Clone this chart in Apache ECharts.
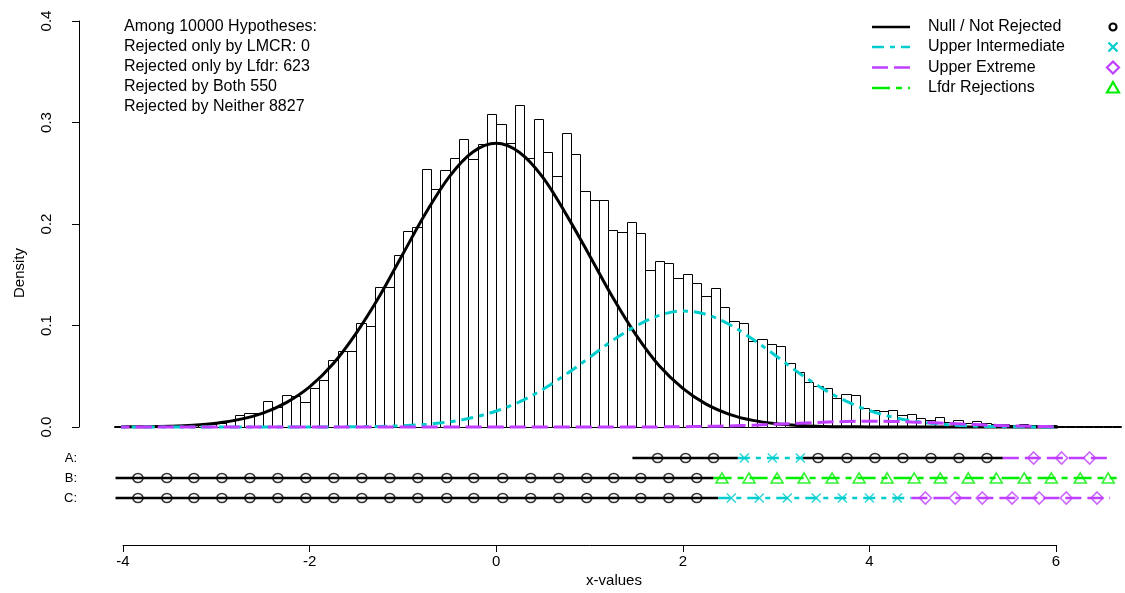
<!DOCTYPE html>
<html><head><meta charset="utf-8">
<script src="https://cdn.jsdelivr.net/npm/echarts@6/dist/echarts.min.js"></script>
<style>html,body{margin:0;padding:0;background:#fff}#c{width:1125px;height:593px}</style>
</head><body><div id="c"></div>
<script>
// ---------- DATA ----------
const histBreakStart = -4.1;
const histBinWidth = 0.1;
const histDensity = [
  0.0005, 0.0005, 0.0005, 0.001, 0.0005, 0.001, 0.001, 0.002, 0.002, 0.003,
  0.003, 0.004, 0.006, 0.012, 0.0135, 0.0135, 0.026, 0.020, 0.0315, 0.031,
  0.025, 0.038, 0.046, 0.066, 0.075, 0.075, 0.102, 0.0995, 0.138, 0.138,
  0.169, 0.193, 0.197, 0.2545, 0.2345, 0.253, 0.265, 0.284, 0.264, 0.279,
  0.308, 0.299, 0.2795, 0.317, 0.265, 0.303, 0.2705, 0.247, 0.290, 0.2685,
  0.2325, 0.2233, 0.2233, 0.194, 0.1925, 0.202, 0.1915, 0.1543, 0.1635, 0.162,
  0.147, 0.151, 0.142, 0.129, 0.137, 0.118, 0.104, 0.1028, 0.0847, 0.087,
  0.0814, 0.080, 0.063, 0.054, 0.044, 0.040, 0.038, 0.029, 0.033, 0.032,
  0.019, 0.017, 0.016, 0.0165, 0.012, 0.013, 0.0085, 0.0065, 0.0095, 0.005,
  0.0065, 0.0035, 0.006, 0.004, 0.003, 0.0025, 0.002, 0.003, 0.002, 0.001,
  0.0015, 0.001, 0.0005, 0.0005, 0.0005, 0.001, 0.0005, 0.0005
];
const curveX = [-4.1, -3.75, -3.5, -3.25, -3.0, -2.75, -2.5, -2.25, -2.0, -1.75, -1.5, -1.25, -1.0, -0.75, -0.5, -0.25,
  0, 0.25, 0.5, 0.75, 1.0, 1.25, 1.5, 1.75, 2.0, 2.25, 2.5, 2.75, 3.0, 3.25, 3.5, 3.75, 4.0, 4.25, 4.5, 4.75,
  5.0, 5.25, 5.5, 5.75, 6.0, 6.25, 6.6];
const nullDensity = [0.0001, 0.0003, 0.0008, 0.0018, 0.0038, 0.0075, 0.0137, 0.0240, 0.0395, 0.0620, 0.0925, 0.1290, 0.1705, 0.2115, 0.2470, 0.2710,
  0.2795, 0.2705, 0.2460, 0.2095, 0.1690, 0.1275, 0.0905, 0.0600, 0.0380, 0.0225, 0.0125, 0.0065, 0.0032, 0.0015, 0.0006, 0.0002, 0.0001, 0, 0, 0,
  0, 0, 0, 0, 0, 0, 0];
const interDensity = [0, 0, 0, 0, 0, 0, 0, 0, 0.00004, 0.0001, 0.0003, 0.0006, 0.0013, 0.0027, 0.0051, 0.0093,
  0.0158, 0.0248, 0.0370, 0.0520, 0.0685, 0.0855, 0.0995, 0.1100, 0.1143, 0.1110, 0.1010, 0.0865, 0.0700, 0.0530, 0.0378, 0.0255, 0.0162, 0.0097, 0.0054, 0.0029,
  0.0014, 0.0006, 0.0003, 0.0001, 0, 0, 0];
const extremeDensity = [0, 0, 0, 0, 0, 0, 0, 0, 0, 0, 0, 0, 0, 0, 0, 0,
  0, 0, 0, 0, 0, 0, 0, 0.0001, 0.0003, 0.0006, 0.0011, 0.0018, 0.0027, 0.0037, 0.0047, 0.0054, 0.0057, 0.0055, 0.0048, 0.0039,
  0.0029, 0.0019, 0.0012, 0.0006, 0.0003, 0.0001, 0];

const rowLabels = ['A:', 'B:', 'C:'];
const segA = [[1.46, 2.59, 'null'], [2.59, 3.29, 'inter'], [3.29, 5.43, 'null'], [5.43, 6.60, 'extreme']];
const segB = [[-4.08, 2.33, 'null'], [2.33, 6.65, 'lfdr']];
const segC = [[-4.08, 2.38, 'null'], [2.38, 4.45, 'inter'], [4.45, 6.58, 'extreme']];

const markANull = [1.73, 2.03, 2.33, 3.45, 3.76, 4.06, 4.36, 4.66, 4.96, 5.26];
const markAInter = [2.66, 2.96, 3.26];
const markAExtreme = [5.76, 6.06, 6.36];
const markBNull = [-3.84, -3.53, -3.24, -2.94, -2.64, -2.34, -2.04, -1.74, -1.44, -1.14, -0.84, -0.53, -0.24, 0.07, 0.37, 0.67, 0.97, 1.26, 1.55, 1.85, 2.15];
const markBLfdr = [2.42, 2.71, 3.01, 3.30, 3.60, 3.89, 4.19, 4.48, 4.76, 5.06, 5.36, 5.66, 5.95, 6.26, 6.56];
const markCNull = [-3.84, -3.53, -3.24, -2.94, -2.64, -2.34, -2.04, -1.74, -1.44, -1.14, -0.84, -0.53, -0.24, 0.07, 0.37, 0.67, 0.97, 1.26, 1.55, 1.85, 2.15];
const markCInter = [2.52, 2.82, 3.12, 3.43, 3.71, 4.00, 4.30];
const markCExtreme = [4.60, 4.92, 5.21, 5.53, 5.82, 6.11, 6.44];

const legendNames = ['Null / Not Rejected', 'Upper Intermediate', 'Upper Extreme', 'Lfdr Rejections'];
const infoLines = ['Among 10000 Hypotheses:', 'Rejected only by LMCR: 0', 'Rejected only by Lfdr: 623', 'Rejected by Both 550', 'Rejected by Neither 8827'];

// ---------- STYLE ----------
const FONT = "'Liberation Sans', Arial, Helvetica, sans-serif";
const CYAN = '#00CDCD', PURPLE = '#BF3EFF', GREEN = '#00EE00';
const lineTypes = {
  null: { color: '#000', type: 'solid' },
  inter: { color: CYAN, type: [12, 6, 5, 6] },
  extreme: { color: PURPLE, type: [16, 6] },
  lfdr: { color: GREEN, type: [18, 6, 6, 6] }
};
const symbolStyles = {
  null: { symbol: 'circle', size: [10, 9], color: '#000' },
  inter: { symbol: 'path://M0,0L10,10M10,0L0,10', size: 9, color: CYAN },
  extreme: { symbol: 'path://M6,0L12,6L6,12L0,6Z', size: 12, color: PURPLE },
  lfdr: { symbol: 'path://M6,0L12,10L0,10Z', size: [12, 10], color: GREEN }
};

const zip = (xs, ys) => xs.map((x, i) => [x, ys[i]]);

const series = [];
// histogram
series.push({
  type: 'custom', xAxisIndex: 0, yAxisIndex: 0, clip: false, z: 1,
  data: histDensity.map((d, i) => [histBreakStart + i * histBinWidth, histBreakStart + (i + 1) * histBinWidth, d]),
  encode: { x: [0, 1], y: 2 },
  renderItem: function (params, api) {
    const p0 = api.coord([api.value(0), 0]);
    const p1 = api.coord([api.value(1), api.value(2)]);
    const x0 = Math.round(p0[0]) + 0.5, x1 = Math.round(p1[0]) + 0.5;
    const y0 = Math.round(p0[1]) + 0.5, y1 = Math.round(p1[1]) + 0.5;
    return { type: 'rect', shape: { x: x0, y: y1, width: x1 - x0, height: y0 - y1 },
      style: { fill: '#fff', stroke: '#000', lineWidth: 1 } };
  }
});
function curve(ys, key, z) {
  return { type: 'line', xAxisIndex: 0, yAxisIndex: 0, data: zip(curveX, ys), smooth: 0.35, showSymbol: false,
    clip: false, z: z, silent: true,
    lineStyle: { color: lineTypes[key].color, type: lineTypes[key].type, width: 3, cap: 'butt' } };
}
series.push(curve(nullDensity, 'null', 3));
series.push(curve(interDensity, 'inter', 4));
series.push(curve(extremeDensity, 'extreme', 5));

function segs(list, row) {
  list.forEach(s => {
    series.push({ type: 'line', xAxisIndex: 1, yAxisIndex: 1, data: [[s[0], row], [s[1], row]], showSymbol: false,
      clip: false, z: 3, silent: true,
      lineStyle: { color: lineTypes[s[2]].color, type: lineTypes[s[2]].type, width: 2.5, cap: 'butt' } });
  });
}
function marks(xs, row, key) {
  const st = symbolStyles[key];
  series.push({ type: 'scatter', xAxisIndex: 1, yAxisIndex: 1, data: xs.map(x => [x, row]), clip: false, z: 4,
    symbol: st.symbol, symbolSize: st.size, silent: true,
    itemStyle: { color: 'rgba(0,0,0,0)', borderColor: st.color, borderWidth: 1.6 } });
}
segs(segA, 0); segs(segB, 1); segs(segC, 2);
marks(markANull, 0, 'null'); marks(markAInter, 0, 'inter'); marks(markAExtreme, 0, 'extreme');
marks(markBNull, 1, 'null'); marks(markBLfdr, 1, 'lfdr');
marks(markCNull, 2, 'null'); marks(markCInter, 2, 'inter'); marks(markCExtreme, 2, 'extreme');

// legend + texts as graphics
const graphics = [];
const legendKeys = ['null', 'inter', 'extreme', 'lfdr'];
const legendY = [27, 47, 67.5, 88];
legendKeys.forEach((k, i) => {
  const y = legendY[i];
  const lt = lineTypes[k];
  graphics.push({ type: 'line', shape: { x1: 872, y1: y, x2: 910, y2: y },
    style: { stroke: lt.color, lineWidth: 2.5, lineDash: lt.type === 'solid' ? null : lt.type } });
  graphics.push({ type: 'text', x: 928, y: y, style: { text: legendNames[i], font: '16px ' + FONT, fill: '#000', verticalAlign: 'middle', align: 'left' } });
  const sx = 1113;
  if (k === 'null') graphics.push({ type: 'circle', shape: { cx: sx, cy: y, r: 3.5 }, style: { fill: 'none', stroke: '#000', lineWidth: 2.2 } });
  if (k === 'inter') graphics.push({ type: 'polyline', shape: { points: [[sx - 4.5, y - 4.5], [sx + 4.5, y + 4.5]] }, style: { stroke: CYAN, lineWidth: 2.2 } },
                                    { type: 'polyline', shape: { points: [[sx + 4.5, y - 4.5], [sx - 4.5, y + 4.5]] }, style: { stroke: CYAN, lineWidth: 2.2 } });
  if (k === 'extreme') graphics.push({ type: 'polygon', shape: { points: [[sx, y - 6], [sx + 6, y], [sx, y + 6], [sx - 6, y]] }, style: { fill: 'none', stroke: PURPLE, lineWidth: 2.2 } });
  if (k === 'lfdr') graphics.push({ type: 'polygon', shape: { points: [[sx, y - 6], [sx + 6, y + 4.5], [sx - 6, y + 4.5]] }, style: { fill: 'none', stroke: GREEN, lineWidth: 2.2 } });
});
graphics.push({ type: 'text', left: 124, top: 17, style: { text: infoLines.join('\n'), font: '16px ' + FONT, lineHeight: 20, fill: '#000' } });
graphics.push({ type: 'text', x: 20, y: 273, rotation: Math.PI / 2, style: { text: 'Density', font: '15px ' + FONT, fill: '#000', align: 'center', verticalAlign: 'middle' } });
graphics.push({ type: 'text', x: 614, y: 581, style: { text: 'x-values', font: '15px ' + FONT, fill: '#000', align: 'center', verticalAlign: 'middle' } });

const axisTextStyle = { color: '#000', fontFamily: FONT, fontSize: 15 };
const option = {
  backgroundColor: '#fff',
  animation: false,
  grid: [
    { left: 123, right: 69, top: 21, height: 406 },
    { left: 123, right: 69, top: 448, height: 60 }
  ],
  xAxis: [
    { type: 'value', gridIndex: 0, min: -4, max: 6, show: false },
    { type: 'value', gridIndex: 1, min: -4, max: 6, interval: 2, offset: 37,
      axisLine: { show: true, onZero: false, lineStyle: { color: '#000', width: 1 } },
      axisTick: { show: true, length: 7, lineStyle: { color: '#000' } },
      axisLabel: Object.assign({ margin: 9 }, axisTextStyle),
      splitLine: { show: false } }
  ],
  yAxis: [
    { type: 'value', gridIndex: 0, min: 0, max: 0.4, interval: 0.1, offset: 44,
      axisLine: { show: true, onZero: false, lineStyle: { color: '#000', width: 1 } },
      axisTick: { show: true, length: 7, lineStyle: { color: '#000' } },
      axisLabel: Object.assign({ rotate: 90, margin: 25, formatter: v => v.toFixed(1) }, axisTextStyle),
      splitLine: { show: false } },
    { type: 'category', gridIndex: 1, data: rowLabels, inverse: true,
      axisLine: { show: false }, axisTick: { show: false },
      axisLabel: { margin: 46, color: '#000', fontFamily: FONT, fontSize: 13 },
      splitLine: { show: false } }
  ],
  graphic: graphics,
  series: series
};
const chart = echarts.init(document.getElementById('c'), null, { renderer: 'canvas' });
chart.setOption(option);
</script></body></html>
